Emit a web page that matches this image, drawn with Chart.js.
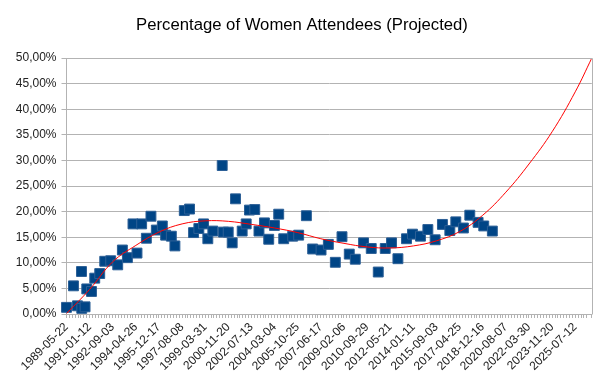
<!DOCTYPE html>
<html lang="en">
<head>
    <meta charset="UTF-8">
    <title>Percentage of Women Attendees (Projected)</title>
    <script src="https://cdn.jsdelivr.net/npm/chart.js"></script>
    <style>
        html, body { margin: 0; padding: 0; background: #fff; }
        .chart-container { width: 604px; height: 388px; }
    </style>
</head>
<body>
    <div class="chart-container">
        <canvas id="womenChart"></canvas>
    </div>

    <script>
        // data: days after 1989-05-22, and percentage of women
        const startDate = Date.UTC(1989, 4, 22);
        const dayOffsets = [
            0, 181, 285, 396, 482, 389, 526, 648, 733, 862,
            992, 1147, 1329, 1450, 1580, 1829, 1725, 1950, 2072, 2191,
            2331, 2486, 2572, 2720, 2813, 3056, 3193, 3297, 3434, 3556,
            3667, 3797, 4040, 4074, 4196, 4299, 4385, 4558, 4662, 4747,
            4885, 4994, 5136, 5247, 5395, 5506, 5636, 5869, 6024, 6224,
            6387, 6605, 6794, 6975, 7148, 7337, 7493, 7708, 7907, 8089,
            8270, 8433, 8599, 8822, 8977, 9184, 9376, 9565, 9754, 9946,
            10101, 10298, 10464, 10679, 10826, 11049
        ];
        const womenPct = [
            1.3, 5.5, 1.6, 1.1, 1.4, 8.3, 4.9, 4.4, 7.0, 7.9,
            10.3, 10.4, 9.6, 12.5, 11.0, 11.9, 17.6, 17.6, 14.8, 19.1,
            16.4, 17.2, 15.4, 15.2, 13.3, 20.2, 20.5, 15.9, 16.7, 17.6,
            14.7, 16.2, 29.0, 16.0, 16.0, 13.9, 22.5, 16.2, 17.6, 20.3,
            20.4, 16.2, 17.8, 14.6, 17.3, 19.5, 14.7, 15.2, 15.4, 19.2,
            12.7, 12.5, 13.6, 10.1, 15.1, 11.7, 10.7, 13.9, 12.8, 8.2,
            12.8, 13.9, 10.8, 14.7, 15.6, 15.2, 16.5, 14.5, 17.5, 16.3,
            18.0, 16.8, 19.3, 17.9, 17.2, 16.2
        ];

        // trend line
        const trendDays = [
            0, 600, 1200, 1800, 2400, 3000, 3600, 4200, 4800, 5400,
            6000, 6600, 7200, 7800, 8400, 9000, 9600, 10200, 10800, 11400,
            12000, 12600, 13200, 13630
        ];
        const trendPct = [
            0.1, 4.8, 10.2, 13.4, 16.0, 17.6, 18.2, 18.1, 17.5, 16.8,
            15.9, 14.7, 13.8, 13.1, 12.9, 13.3, 14.3, 16.1, 19.3, 23.8,
            29.3, 35.6, 43.4, 50.0
        ];

        const yTicks = [0, 5, 10, 15, 20, 25, 30, 35, 40, 45, 50];

        function fmtDate(d) {
            return new Date(startDate + d * 86400000).toISOString().slice(0, 10);
        }

        const font = "'Liberation Sans', Arial, sans-serif";
        const gridColor = '#b3b3b3';

        const framePlugin = {
            id: 'frame',
            afterDatasetsDraw(chart) {
                const a = chart.chartArea;
                const ctx = chart.ctx;
                ctx.save();
                ctx.strokeStyle = gridColor;
                ctx.lineWidth = 1;
                ctx.beginPath();
                ctx.moveTo(Math.round(a.left) + 0.5, Math.round(a.top) + 0.5);
                ctx.lineTo(Math.round(a.right) + 0.5, Math.round(a.top) + 0.5);
                ctx.lineTo(Math.round(a.right) + 0.5, Math.round(a.bottom) + 0.5);
                ctx.stroke();
                ctx.restore();
            }
        };

        const ctx = document.getElementById('womenChart').getContext('2d');
        new Chart(ctx, {
            type: 'scatter',
            data: {
                datasets: [
                    {
                        label: 'Trend',
                        data: trendDays.map((d, i) => ({ x: d, y: trendPct[i] })),
                        showLine: true,
                        borderColor: '#ff0000',
                        borderWidth: 1,
                        pointRadius: 0,
                        tension: 0.4,
                        fill: false
                    },
                    {
                        label: 'Women',
                        data: dayOffsets.map((d, i) => ({ x: d, y: womenPct[i] })),
                        pointStyle: 'rect',
                        pointRadius: 7,
                        backgroundColor: '#004586',
                        borderColor: '#2b5f96',
                        borderWidth: 1,
                        clip: false
                    }
                ]
            },
            options: {
                responsive: true,
                maintainAspectRatio: false,
                animation: false,
                layout: { padding: 0 },
                plugins: {
                    legend: { display: false },
                    tooltip: { enabled: false },
                    title: {
                        display: true,
                        text: 'Percentage of Women Attendees (Projected)',
                        color: '#000',
                        font: { family: font, size: 16.7, weight: 'normal' },
                        padding: { top: 15.5, bottom: 22.5 }
                    }
                },
                scales: {
                    x: {
                        type: 'linear',
                        min: 0,
                        max: 13630,
                        afterFit(scale) { scale.height = 74; },
                        grid: {
                            drawOnChartArea: false,
                            drawTicks: true,
                            tickLength: 4,
                            color: gridColor
                        },
                        border: { color: gridColor },
                        ticks: {
                            stepSize: 75,
                            autoSkip: false,
                            maxRotation: 45,
                            minRotation: 45,
                            padding: 2,
                            color: '#222',
                            font: { family: font, size: 12 },
                            callback: (v) => (v % 600 === 0 ? fmtDate(v) : '')
                        }
                    },
                    y: {
                        min: 0,
                        max: 50,
                        afterFit(scale) { scale.width = 66.5; },
                        afterBuildTicks(scale) { scale.ticks = yTicks.map(v => ({ value: v })); },
                        grid: {
                            color: gridColor,
                            tickLength: 5
                        },
                        border: { color: gridColor },
                        ticks: {
                            padding: 5,
                            color: '#222',
                            font: { family: font, size: 12 },
                            callback: (v) => v.toFixed(2).replace('.', ',') + '%'
                        }
                    },
                    // empty right margin so the title stays centred on the page
                    yRight: {
                        position: 'right',
                        display: true,
                        afterFit(scale) { scale.width = 11; },
                        grid: { display: false },
                        border: { display: false },
                        ticks: { display: false }
                    }
                }
            },
            plugins: [framePlugin]
        });
    </script>
</body>
</html>
